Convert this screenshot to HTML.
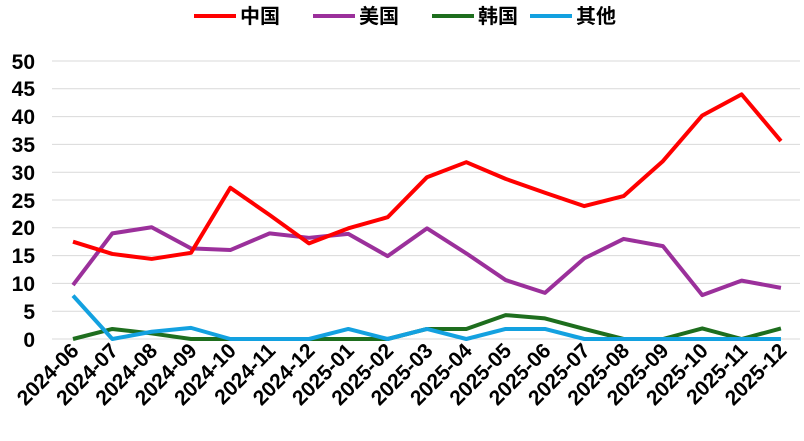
<!DOCTYPE html><html><head><style>body{margin:0;background:#fff}svg{font-family:"Liberation Sans","Noto Sans CJK SC",sans-serif;font-weight:bold}</style></head><body>
<svg width="804" height="436" xmlns="http://www.w3.org/2000/svg">
<g stroke="#d9d9d9" stroke-width="1">
<line x1="52" x2="800" y1="339" y2="339"/><line x1="52" x2="800" y1="311.2" y2="311.2"/><line x1="52" x2="800" y1="283.4" y2="283.4"/><line x1="52" x2="800" y1="255.6" y2="255.6"/><line x1="52" x2="800" y1="227.8" y2="227.8"/><line x1="52" x2="800" y1="200" y2="200"/><line x1="52" x2="800" y1="172.2" y2="172.2"/><line x1="52" x2="800" y1="144.4" y2="144.4"/><line x1="52" x2="800" y1="116.6" y2="116.6"/><line x1="52" x2="800" y1="88.8" y2="88.8"/><line x1="52" x2="800" y1="61" y2="61"/>
</g>
<g font-size="21" text-anchor="end" fill="#000">
<text x="35" y="347">0</text><text x="35" y="319">5</text><text x="35" y="291">10</text><text x="35" y="263">15</text><text x="35" y="235">20</text><text x="35" y="208">25</text><text x="35" y="180">30</text><text x="35" y="152">35</text><text x="35" y="124">40</text><text x="35" y="96">45</text><text x="35" y="69">50</text>
</g>
<g id="lines" fill="none" stroke-width="4" stroke-linejoin="round"></g>
<g id="xl" font-size="21" text-anchor="end"></g>
<g font-size="20">
<line x1="194" x2="236" y1="16" y2="16" stroke="#ff0000" stroke-width="4"/><text x="240" y="23">中国</text>
<line x1="313" x2="355" y1="16" y2="16" stroke="#9b309b" stroke-width="4"/><text x="359" y="23">美国</text>
<line x1="432" x2="474" y1="16" y2="16" stroke="#1e6e1e" stroke-width="4"/><text x="478" y="23">韩国</text>
<line x1="530" x2="572" y1="16" y2="16" stroke="#13a1e0" stroke-width="4"/><text x="576" y="23">其他</text>
</g>
</svg>
<script>
const S={"#13a1e0":[7.8,0,1.3,2,0,0,0,1.8,0,1.8,0,1.8,1.8,0,0,0,0,0,0],
"#1e6e1e":[0,1.8,1,0,0,0,0,0,0,1.8,1.8,4.3,3.7,1.8,0,0,1.9,0,1.9],
"#9b309b":[9.7,19,20.1,16.3,16,19,18.2,18.9,14.9,19.9,15.4,10.6,8.3,14.5,18,16.7,7.9,10.5,9.2],
"#ff0000":[17.5,15.3,14.4,15.5,27.2,22.3,17.2,19.9,21.9,29.1,31.8,28.8,26.3,23.9,25.7,32,40.2,44,35.6]};
const ns="http://www.w3.org/2000/svg",X=i=>73+i*39.33,Y=v=>339-v*5.56;
const g=document.getElementById("lines");
for(const c of ["#1e6e1e","#13a1e0","#9b309b","#ff0000"]){const p=document.createElementNS(ns,"polyline");p.setAttribute("points",S[c].map((v,i)=>X(i)+","+Y(v)).join(" "));p.setAttribute("stroke",c);g.appendChild(p);}
const L=["2024-06","2024-07","2024-08","2024-09","2024-10","2024-11","2024-12","2025-01","2025-02","2025-03","2025-04","2025-05","2025-06","2025-07","2025-08","2025-09","2025-10","2025-11","2025-12"];
const xl=document.getElementById("xl");
L.forEach((t,i)=>{const e=document.createElementNS(ns,"text");const x=X(i)+7,y=352;e.setAttribute("transform",`translate(${x},${y}) rotate(-45)`);e.textContent=t;xl.appendChild(e);});
</script>
</body></html>
